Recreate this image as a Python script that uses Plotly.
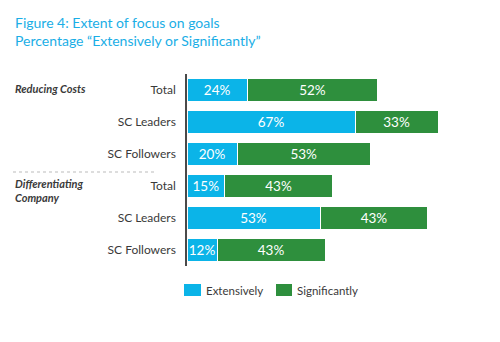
import plotly.graph_objects as go

# Survey results: share answering "Extensively" / "Significantly"
row_labels = ["Total", "SC Leaders", "SC Followers", "Total", "SC Leaders", "SC Followers"]
extensively = [24, 67, 20, 15, 53, 12]
significantly = [52, 33, 53, 43, 43, 43]
groups = ["Reducing Costs", "Differentiating<br>Company"]
series_names = ["Extensively", "Significantly"]

BLUE = "#0bb4e8"
GREEN = "#2e8f3d"
TEXT = "#3a3a3a"
FONT = "Lato"

# plot area in pixels (page is 500 x 342)
L, R, T, B = 187, 438, 74, 266
W, H = R - L, B - T


def px_x(px):
    return (px - L) / W


def px_y(py):
    return (B - py) / H


rows = list(range(len(row_labels)))
colors = [BLUE, GREEN]

fig = go.Figure()
for name, vals, color in zip(series_names, [extensively, significantly], colors):
    fig.add_trace(go.Bar(
        name=name, y=rows, x=vals, orientation="h",
        marker=dict(color=color, line=dict(color="white", width=1)),
        text=[f"{v}%" for v in vals], textposition="inside",
        insidetextanchor="middle", constraintext="none",
        textfont=dict(color="white", size=13.5, family=FONT),
        hoverinfo="skip",
    ))

fig.update_layout(
    barmode="stack",
    bargap=0.28,
    width=500, height=342,
    margin=dict(l=L, r=500 - R, t=T, b=342 - B),
    paper_bgcolor="white", plot_bgcolor="white",
    font=dict(family=FONT, color=TEXT, size=12),
    showlegend=False,
    xaxis=dict(range=[0, 100], visible=False, fixedrange=True),
    yaxis=dict(
        tickvals=rows, ticktext=row_labels, autorange="reversed",
        showline=True, linecolor="#4a4a4a", linewidth=1.5,
        ticks="", ticklabelstandoff=7, showgrid=False, zeroline=False,
        tickfont=dict(size=12, color=TEXT, family=FONT),
    ),
)

# two-line heading
fig.add_annotation(
    text="Figure 4: Extent of focus on goals<br>Percentage \u201cExtensively or Significantly\u201d",
    xref="paper", yref="paper", x=px_x(13), y=px_y(12),
    xanchor="left", yanchor="top", align="left", showarrow=False,
    font=dict(family=FONT, size=14, color="#1aaee6"),
)

# group labels on the left
fig.add_annotation(text=f"<b><i>{groups[0]}</i></b>", xref="paper", yref="paper",
                   x=px_x(13), y=px_y(88), xanchor="left", yanchor="middle",
                   align="left", showarrow=False,
                   font=dict(size=11, color=TEXT, family=FONT))
fig.add_annotation(text=f"<b><i>{groups[1]}</i></b>", xref="paper", yref="paper",
                   x=px_x(13), y=px_y(190), xanchor="left", yanchor="middle",
                   align="left", showarrow=False,
                   font=dict(size=11, color=TEXT, family=FONT))

# dotted separator between the two groups
fig.add_shape(type="line", xref="paper", yref="paper",
              x0=px_x(13), x1=px_x(157), y0=px_y(172), y1=px_y(172),
              line=dict(color="#bbbbbb", width=1, dash="dot"))

# legend: colour swatch followed by the series name
legend_pos = [(184, 201), (276, 292)]
for name, color, (x0, x1) in zip(series_names, colors, legend_pos):
    fig.add_shape(type="rect", xref="paper", yref="paper",
                  x0=px_x(x0), x1=px_x(x1), y0=px_y(296), y1=px_y(284),
                  fillcolor=color, line=dict(width=0))
    fig.add_annotation(text=name, xref="paper", yref="paper",
                       x=px_x(x1 + 3), y=px_y(290), xanchor="left", yanchor="middle",
                       showarrow=False, font=dict(size=11.5, color=TEXT, family=FONT))

fig.write_html("out.html")
